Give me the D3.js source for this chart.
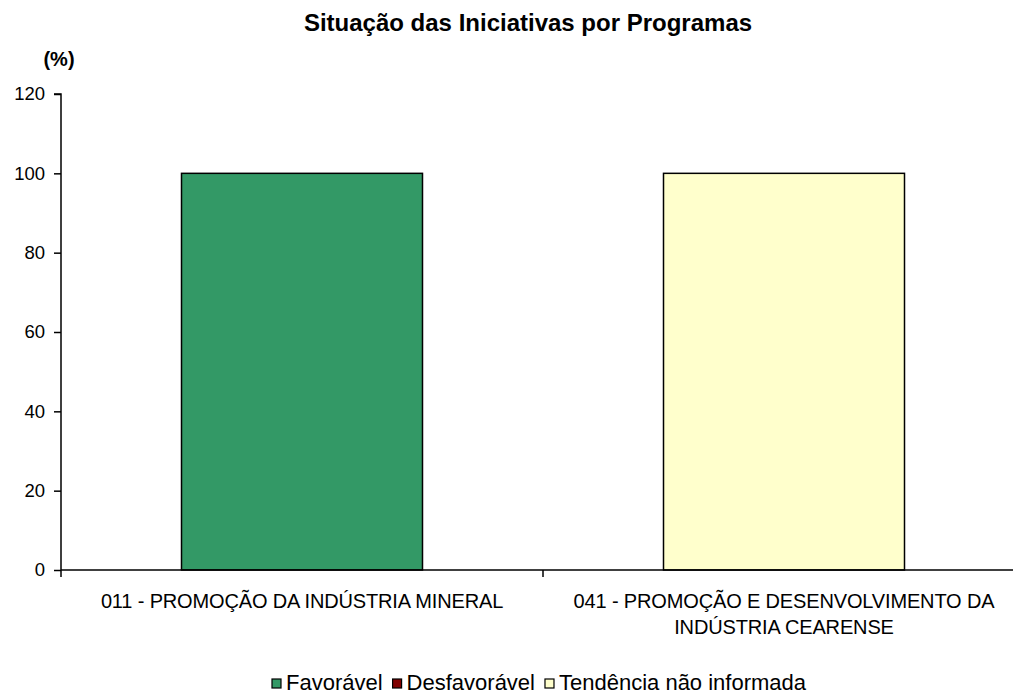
<!DOCTYPE html>
<html>
<head>
<meta charset="utf-8">
<script src="https://cdn.jsdelivr.net/npm/d3@7"></script>
<style>
body { margin: 0; background: #fff; }
text { font-family: Arial, "Liberation Sans", sans-serif; fill: #000; }
</style>
</head>
<body>
<div id="chart"></div>
<script>
// data
var programas = ["011 - PROMOÇÃO DA INDÚSTRIA MINERAL", "041 - PROMOÇÃO E DESENVOLVIMENTO DA|INDÚSTRIA CEARENSE"];
var series = ["Favorável", "Desfavorável", "Tendência não informada"];
var favoravel = [100, 0];
var desfavoravel = [0, 0];
var naoInformada = [0, 100];
var yTicks = [0, 20, 40, 60, 80, 100, 120];
var cores = ["#339966", "#800000", "#FFFFCC"];

const width = 1013, height = 695;
const margin = {top: 94, right: -12, bottom: 125, left: 61};
var w = width - margin.left - margin.right,
    h = height - margin.top - margin.bottom;

var rows = programas.map((p, i) => ({
  prog: p,
  "Favorável": favoravel[i],
  "Desfavorável": desfavoravel[i],
  "Tendência não informada": naoInformada[i]
}));
var stacked = d3.stack().keys(series)(rows);

var svg = d3.select("#chart").append("svg")
  .attr("width", width).attr("height", height);

svg.append("text")
  .attr("x", 528).attr("y", 31)
  .attr("text-anchor", "middle")
  .style("font-size", "24px").style("font-weight", "bold")
  .text("Situação das Iniciativas por Programas");

svg.append("text")
  .attr("x", 59).attr("y", 66)
  .attr("text-anchor", "middle")
  .style("font-size", "20px").style("font-weight", "bold")
  .text("(%)");

var g = svg.append("g").attr("transform", `translate(${margin.left},${margin.top})`);

var x = d3.scaleBand().domain(programas).range([0, w]).paddingInner(0).paddingOuter(0);
var y = d3.scaleLinear().domain([0, 120]).range([h, 0]);
var color = d3.scaleOrdinal().domain(series).range(cores);

// bars
g.selectAll("g.serie")
  .data(stacked)
  .join("g")
  .attr("class", "serie")
  .attr("fill", d => color(d.key))
  .selectAll("rect")
  .data(d => d.filter(v => v[1] - v[0] > 0))
  .join("rect")
  .attr("x", d => x(d.data.prog) + x.bandwidth() / 4)
  .attr("width", x.bandwidth() / 2)
  .attr("y", d => y(d[1]))
  .attr("height", d => y(d[0]) - y(d[1]))
  .attr("stroke", "#000")
  .attr("stroke-width", 1.5);

// y axis
var yAxis = g.append("g")
  .call(d3.axisLeft(y).tickValues(yTicks).tickSize(7).tickPadding(9));
yAxis.selectAll("text").style("font-size", "18.5px");
yAxis.select(".domain").attr("d", `M-7,${y(120)}H0V${h}`).attr("stroke-width", 1.5);
yAxis.selectAll(".tick line").attr("stroke-width", 1.5);

// x axis
var xAxis = g.append("g").attr("transform", `translate(0,${h})`);
xAxis.append("line").attr("x1", 0).attr("x2", w).attr("stroke", "#000").attr("stroke-width", 1.5);
xAxis.selectAll("line.sep")
  .data([0].concat(programas.map(p => x(p) + x.bandwidth())))
  .join("line").attr("class", "sep")
  .attr("x1", d => d).attr("x2", d => d)
  .attr("y1", 0).attr("y2", 7)
  .attr("stroke", "#000").attr("stroke-width", 1.5);

var labels = xAxis.selectAll("text.cat")
  .data(programas)
  .join("text").attr("class", "cat")
  .attr("text-anchor", "middle")
  .style("font-size", "20px")
  .style("letter-spacing", "-0.15px");
labels.each(function(p) {
  var parts = p.split("|");
  var t = d3.select(this);
  parts.forEach((s, i) => {
    t.append("tspan")
      .attr("x", x(p) + x.bandwidth() / 2)
      .attr("y", 38 + i * 26)
      .text(s);
  });
});

// legend
var legend = svg.append("g").attr("transform", "translate(272,679)");
var pos = 0;
series.forEach((s, i) => {
  var lg = legend.append("g").attr("transform", `translate(${pos},0)`);
  lg.append("rect").attr("x", 0).attr("y", 0).attr("width", 9).attr("height", 9)
    .attr("fill", color(s)).attr("stroke", "#000").attr("stroke-width", 1.2);
  var t = lg.append("text").attr("x", 14).attr("y", 11)
    .style("font-size", "22px")
    .text(s);
  pos += 14 + t.node().getComputedTextLength() + 10;
});
</script>
</body>
</html>
